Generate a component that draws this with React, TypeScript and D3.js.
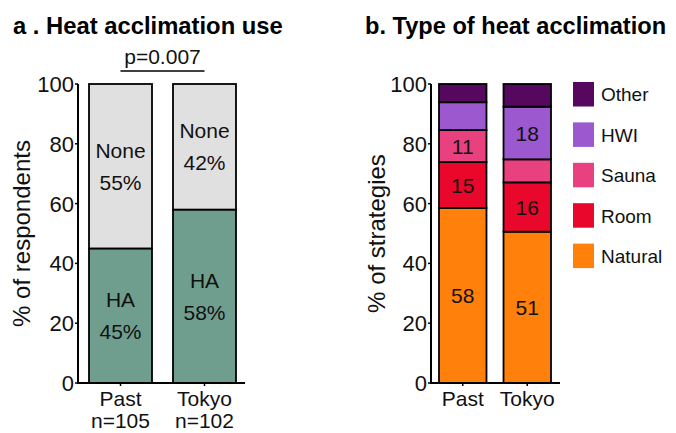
import React from "react";
import * as d3 from "d3";

const groups = ["Past", "Tokyo"];
const groupN = ["n=105", "n=102"];
const useKeys = ["HA", "None"];
const haValues = [45, 58];
const noneValues = [55, 42];
const haLabels = ["45%", "58%"];
const noneLabels = ["55%", "42%"];

const typeKeys = ["Natural", "Room", "Sauna", "HWI", "Other"];
const naturalValues = [58.5, 50.6];
const roomValues = [15.4, 16.5];
const saunaValues = [10.7, 7.7];
const hwiValues = [9.3, 17.6];
const otherValues = [6.1, 7.6];
const typeLabels: Record<string, (string | null)[]> = {
  Natural: ["58", "51"],
  Room: ["15", "16"],
  Sauna: ["11", null],
  HWI: [null, "18"],
  Other: [null, null],
};
const legendOrder = ["Other", "HWI", "Sauna", "Room", "Natural"];
const yTicks = [0, 20, 40, 60, 80, 100];

const useColors: Record<string, string> = { HA: "#6f9e8f", None: "#e0e0e0" };
const typeColors: Record<string, string> = {
  Natural: "#ff800a",
  Room: "#e9082b",
  Sauna: "#e9417f",
  HWI: "#9b58cf",
  Other: "#55085e",
};

const FONT = "'Liberation Sans', Arial, Helvetica, sans-serif";

export default function App() {
  const y = d3.scaleLinear().domain([0, 100]).range([383, 84]);

  const xa = d3.scaleBand().domain(groups).range([78, 247]).paddingInner(0.25).paddingOuter(0.131);
  const xb = d3.scaleBand().domain(groups).range([431, 559]).paddingInner(0.264).paddingOuter(0.124);

  const useRows = groups.map((g, i) => ({ group: g, HA: haValues[i], None: noneValues[i] }));
  const useStack = d3.stack<any>().keys(useKeys)(useRows);
  const useLabelText: Record<string, string[]> = { HA: haLabels, None: noneLabels };

  const typeRows = groups.map((g, i) => ({
    group: g,
    Natural: naturalValues[i],
    Room: roomValues[i],
    Sauna: saunaValues[i],
    HWI: hwiValues[i],
    Other: otherValues[i],
  }));
  const typeStack = d3.stack<any>().keys(typeKeys)(typeRows);

  const yAxis = (x0: number) => (
    <g>
      <line x1={x0} x2={x0} y1={y(100)} y2={y(0)} stroke="#000" strokeWidth={2} />
      {yTicks.map((t) => (
        <g key={t}>
          <line x1={x0 - 3} x2={x0} y1={y(t)} y2={y(t)} stroke="#000" strokeWidth={1.5} />
          <text x={x0 - 4} y={y(t)} dy="0.36em" textAnchor="end" fontSize={22} fontFamily={FONT} fill="#111">
            {t}
          </text>
        </g>
      ))}
    </g>
  );

  return (
    <svg width={676} height={433} style={{ position: "absolute", left: 0, top: 0 }}>
      <rect width={676} height={433} fill="#fff" />
      {/* Panel a */}
      <text x={13} y={34} fontSize={23.8} fontWeight="bold" fontFamily={FONT} fill="#000">
        a . Heat acclimation use
      </text>
      <text x={(xa("Past")! + xa("Tokyo")! + xa.bandwidth()) / 2} y={64} textAnchor="middle" fontSize={21} fontFamily={FONT} fill="#111">
        p=0.007
      </text>
      <line
        x1={xa("Past")! + xa.bandwidth() / 2}
        x2={xa("Tokyo")! + xa.bandwidth() / 2}
        y1={71}
        y2={71}
        stroke="#000"
        strokeWidth={1.5}
      />
      {useStack.map((layer) =>
        layer.map((d, i) => (
          <rect
            key={layer.key + i}
            x={xa(groups[i])!}
            y={y(d[1])}
            width={xa.bandwidth()}
            height={y(d[0]) - y(d[1])}
            fill={useColors[layer.key]}
            stroke="#000"
            strokeWidth={1.8}
          />
        ))
      )}
      {useStack.map((layer) =>
        layer.map((d, i) => {
          const cy = y((d[0] + d[1]) / 2);
          const cx = xa(groups[i])! + xa.bandwidth() / 2;
          return (
            <text key={"l" + layer.key + i} x={cx} textAnchor="middle" fontSize={21} fontFamily={FONT} fill="#111">
              <tspan x={cx} y={cy - 16} dy="0.36em">{layer.key}</tspan>
              <tspan x={cx} y={cy + 16} dy="0.36em">{useLabelText[layer.key][i]}</tspan>
            </text>
          );
        })
      )}
      {yAxis(78)}
      <line x1={77} x2={245} y1={y(0)} y2={y(0)} stroke="#000" strokeWidth={2} />
      {groups.map((g, i) => {
        const cx = xa(g)! + xa.bandwidth() / 2;
        return (
          <g key={g}>
            <line x1={cx} x2={cx} y1={y(0)} y2={y(0) + 3} stroke="#000" strokeWidth={1.5} />
            <text x={cx} y={406} textAnchor="middle" fontSize={21} fontFamily={FONT} fill="#111">{g}</text>
            <text x={cx} y={428} textAnchor="middle" fontSize={21} fontFamily={FONT} fill="#111">{groupN[i]}</text>
          </g>
        );
      })}
      <text transform={`translate(30,${(y(0) + y(100)) / 2}) rotate(-90)`} textAnchor="middle" fontSize={24} fontFamily={FONT} fill="#111">
        % of respondents
      </text>

      {/* Panel b */}
      <text x={365} y={34} fontSize={23.6} fontWeight="bold" fontFamily={FONT} fill="#000">
        b. Type of heat acclimation
      </text>
      {typeStack.map((layer) =>
        layer.map((d, i) => (
          <rect
            key={layer.key + i}
            x={xb(groups[i])!}
            y={y(d[1])}
            width={xb.bandwidth()}
            height={y(d[0]) - y(d[1])}
            fill={typeColors[layer.key]}
            stroke="#000"
            strokeWidth={1.8}
          />
        ))
      )}
      {typeStack.map((layer) =>
        layer.map((d, i) => {
          const lab = typeLabels[layer.key][i];
          if (!lab) return null;
          return (
            <text
              key={"t" + layer.key + i}
              x={xb(groups[i])! + xb.bandwidth() / 2}
              y={y((d[0] + d[1]) / 2)}
              dy="0.36em"
              textAnchor="middle"
              fontSize={21}
              fontFamily={FONT}
              fill="#111"
            >
              {lab}
            </text>
          );
        })
      )}
      {yAxis(431)}
      <line x1={430} x2={560} y1={y(0)} y2={y(0)} stroke="#000" strokeWidth={2} />
      {groups.map((g) => {
        const cx = xb(g)! + xb.bandwidth() / 2;
        return (
          <g key={"b" + g}>
            <line x1={cx} x2={cx} y1={y(0)} y2={y(0) + 3} stroke="#000" strokeWidth={1.5} />
            <text x={cx} y={406} textAnchor="middle" fontSize={21} fontFamily={FONT} fill="#111">{g}</text>
          </g>
        );
      })}
      <text transform={`translate(385,${(y(0) + y(100)) / 2}) rotate(-90)`} textAnchor="middle" fontSize={24} fontFamily={FONT} fill="#111">
        % of strategies
      </text>
      {legendOrder.map((k, i) => (
        <g key={k} transform={`translate(573,${82 + i * 40.4})`}>
          <rect width={21} height={24.5} fill={typeColors[k]} />
          <text x={28} y={12.5} dy="0.36em" fontSize={19} fontFamily={FONT} fill="#111">{k}</text>
        </g>
      ))}
    </svg>
  );
}
